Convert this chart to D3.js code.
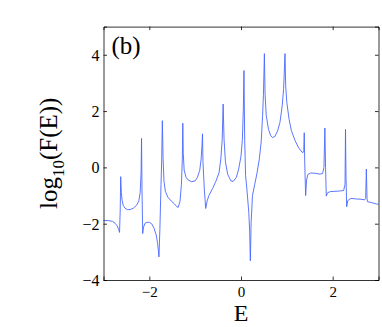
<!doctype html>
<html lang="en">
<head>
<meta charset="utf-8">
<title>log10(F(E))</title>
<style>
html, body {
	margin: 0;
	padding: 0;
	background: #fff;
	overflow: hidden;
}
svg text {
	font-family: 'Liberation Serif', 'Times New Roman', serif;
	fill: #000;
}
.domain, .tick line {
	stroke: #000;
	stroke-width: 0.8px;
}
</style>
</head>
<body>
<div id="chart"></div>
<script src="https://cdnjs.cloudflare.com/ajax/libs/d3/7.8.5/d3.min.js"></script>
<script>
// data
var energy = [
	-3.00, -2.90, -2.80, -2.75, -2.70, -2.67, -2.65, -2.635, -2.625, -2.61,
	-2.595, -2.57, -2.53, -2.48, -2.42, -2.35, -2.28, -2.23, -2.20, -2.18,
	-2.17, -2.16, -2.145, -2.13, -2.10, -2.05, -2.00, -1.95, -1.90, -1.85,
	-1.82, -1.80, -1.79, -1.77, -1.745, -1.73, -1.716, -1.70, -1.68, -1.65,
	-1.60, -1.52, -1.45, -1.40, -1.37, -1.33, -1.30, -1.28, -1.27, -1.26,
	-1.24, -1.20, -1.15, -1.08, -1.00, -0.95, -0.90, -0.87, -0.85, -0.84,
	-0.83, -0.80, -0.77, -0.74, -0.70, -0.62, -0.55, -0.48, -0.44, -0.41,
	-0.39, -0.37, -0.34, -0.29, -0.22, -0.17, -0.10, -0.05, 0.00, 0.03,
	0.05, 0.065, 0.08, 0.10, 0.13, 0.17, 0.19, 0.204, 0.22, 0.25,
	0.30, 0.35, 0.40, 0.44, 0.47, 0.49, 0.51, 0.525, 0.55, 0.60,
	0.65, 0.69, 0.74, 0.80, 0.85, 0.90, 0.93, 0.96, 0.975, 1.00,
	1.05, 1.10, 1.18, 1.25, 1.31, 1.35, 1.37, 1.38, 1.39, 1.41,
	1.43, 1.46, 1.52, 1.62, 1.72, 1.78, 1.81, 1.83, 1.845, 1.86,
	1.89, 1.95, 2.05, 2.15, 2.24, 2.27, 2.28, 2.29, 2.305, 2.33,
	2.40, 2.50, 2.60, 2.70, 2.72, 2.735, 2.75, 2.76, 2.85, 2.95,
	3.00
];
var logF = [
	-1.89, -1.89, -1.92, -1.98, -2.08, -2.20, -2.31, -1.50, -0.33, -0.90,
	-1.16, -1.35, -1.45, -1.50, -1.50, -1.45, -1.35, -1.20, -0.90, -0.20,
	1.03, -0.80, -2.35, -2.15, -2.00, -1.95, -1.95, -2.00, -2.15, -2.40,
	-2.70, -3.00, -3.18, -2.20, -0.60, 0.30, 1.66, 0.30, -0.50, -0.85,
	-1.05, -1.20, -1.30, -1.40, -1.42, -1.20, -0.60, 0.30, 1.57, 0.50,
	-0.10, -0.35, -0.45, -0.51, -0.48, -0.35, -0.10, 0.30, 0.80, 1.19,
	0.20, -0.80, -1.46, -1.20, -1.00, -0.75, -0.50, -0.20, 0.30, 1.00,
	2.25, 1.00, 0.20, -0.25, -0.48, -0.50, -0.35, -0.05, 0.40, 1.00,
	2.00, 3.44, 1.00, -0.30, -0.80, -1.60, -2.30, -3.32, -2.00, -1.00,
	-0.60, -0.20, 0.30, 0.90, 1.80, 2.60, 4.04, 2.60, 1.85, 1.35,
	1.12, 1.06, 1.10, 1.30, 1.60, 2.20, 2.80, 4.04, 2.90, 2.30,
	1.70, 1.30, 0.95, 0.72, 0.58, 0.52, 0.60, 1.23, 0.20, -1.00,
	-0.45, -0.25, -0.20, -0.21, -0.24, -0.22, 0.00, 1.40, 0.00, -1.02,
	-0.90, -0.86, -0.85, -0.84, -0.82, -0.60, 1.35, -0.20, -1.40, -1.18,
	-1.10, -1.12, -1.13, -1.15, -1.10, -0.06, -1.10, -1.22, -1.25, -1.30,
	-1.31
];
var xTicks = [-2, 0, 2];
var xTickLabels = ['\u22122', '0', '2'];
var yTicks = [-4, -2, 0, 2, 4];
var yTickLabels = ['\u22124', '\u22122', '0', '2', '4'];

var W = 382, H = 327;
var margin = {top: 26.6, right: 3.5, bottom: 47, left: 103.5};
var iw = W - margin.left - margin.right;
var ih = H - margin.top - margin.bottom;

var x = d3.scaleLinear().domain([-3, 3]).range([0, iw]);
var y = d3.scaleLinear().domain([-4, 5]).range([ih, 0]);

var svg = d3.select('#chart').append('svg')
	.attr('width', W)
	.attr('height', H);

var g = svg.append('g')
	.attr('transform', 'translate(' + margin.left + ',' + margin.top + ')');

// curve
var pts = energy.map(function (e, i) { return [e, logF[i]]; });
var line = d3.line()
	.x(function (d) { return x(d[0]); })
	.y(function (d) { return y(d[1]); });

g.append('path')
	.datum(pts)
	.attr('d', line)
	.attr('fill', 'none')
	.attr('stroke', '#4a68ff')
	.attr('stroke-width', 0.9)
	.attr('stroke-linejoin', 'round');

// axes, ticks pointing in (matlab box)
var xAxis = g.append('g')
	.attr('transform', 'translate(0,' + ih + ')')
	.call(d3.axisBottom(x).tickValues(xTicks).tickSize(-3.5)
		.tickFormat(function (d, i) { return xTickLabels[i]; }));
xAxis.selectAll('text')
	.attr('y', 16.5)
	.attr('dy', 0)
	.style('font-size', '15px');

var yAxis = g.append('g')
	.call(d3.axisLeft(y).tickValues(yTicks).tickSize(-3.5)
		.tickFormat(function (d, i) { return yTickLabels[i]; }));
yAxis.selectAll('text')
	.attr('x', -4)
	.attr('dy', '0.34em')
	.style('font-size', '16px');

g.append('g')
	.call(d3.axisTop(x).tickValues(xTicks).tickSize(-3.5).tickFormat(''));
g.append('g')
	.attr('transform', 'translate(' + iw + ',0)')
	.call(d3.axisRight(y).tickValues(yTicks).tickSize(-3.5).tickFormat(''));

g.selectAll('.domain').attr('stroke', '#000');
svg.selectAll('.tick text').attr('fill', '#000').attr('font-family', null);

// labels
g.append('text')
	.attr('x', 8)
	.attr('y', 27)
	.style('font-size', '25px')
	.text('(b)');

svg.append('text')
	.attr('x', margin.left + x(0))
	.attr('y', 321)
	.attr('text-anchor', 'middle')
	.style('font-size', '24px')
	.text('E');

var yl = svg.append('text')
	.attr('transform', 'translate(57,' + (margin.top + ih / 2) + ') rotate(-90)')
	.attr('text-anchor', 'middle')
	.style('font-size', '25px');
yl.append('tspan').text('log');
yl.append('tspan').attr('dy', 7).style('font-size', '17px').text('10');
yl.append('tspan').attr('dy', -7).text('(F(E))');
</script>
</body>
</html>
